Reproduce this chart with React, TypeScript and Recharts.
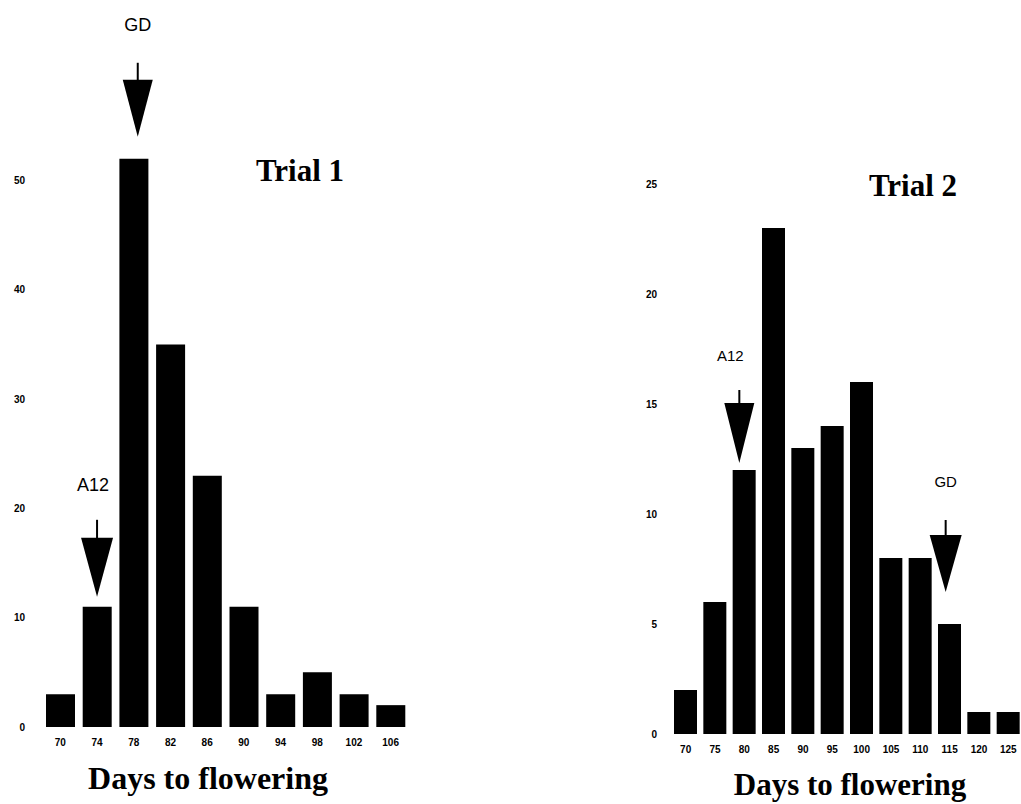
import { BarChart, Bar, XAxis, YAxis, ReferenceDot } from "recharts";

// Trial 1
const days1 = [70, 74, 78, 82, 86, 90, 94, 98, 102, 106];
const counts1 = [3, 11, 52, 35, 23, 11, 3, 5, 3, 2];
const yTicks1 = [0, 10, 20, 30, 40, 50];

// Trial 2
const days2 = [70, 75, 80, 85, 90, 95, 100, 105, 110, 115, 120, 125];
const counts2 = [2, 6, 12, 23, 13, 14, 16, 8, 8, 5, 1, 1];
const yTicks2 = [0, 5, 10, 15, 20, 25];

const data1 = days1.map((day, i) => ({ day, count: counts1[i] }));
const data2 = days2.map((day, i) => ({ day, count: counts2[i] }));

const tickFont = {
  fontSize: 10,
  fontWeight: 700,
  fill: "#000",
  fontFamily: "Liberation Sans, Arial, sans-serif",
};

// arrow pointing down at a bar, with a label above
const Arrow = (props: any) => {
  const { cx, cy, gap, triH, triW, shaft, labelGap, label, fontSize, dx = 0, ldx = 0 } = props;
  if (cx == null || cy == null) return null;
  const x = cx + dx;
  const tip = cy - gap;
  const triTop = tip - triH;
  const shaftTop = triTop - shaft;
  return (
    <g>
      <line x1={x} y1={shaftTop} x2={x} y2={triTop + 2} stroke="#000" strokeWidth={2} />
      <polygon points={`${x - triW / 2},${triTop} ${x + triW / 2},${triTop} ${x},${tip}`} fill="#000" />
      <text
        x={x + ldx}
        y={shaftTop - labelGap}
        textAnchor="middle"
        dominantBaseline="central"
        fontSize={fontSize}
        fontFamily="Liberation Sans, Arial, sans-serif"
        fill="#000"
      >
        {label}
      </text>
    </g>
  );
};

const serifBold = {
  position: "absolute" as const,
  fontFamily: "Liberation Serif, Times New Roman, serif",
  fontWeight: 700,
  color: "#000",
  whiteSpace: "nowrap" as const,
  transform: "translate(-50%, -50%)",
  lineHeight: 1,
};

export default function App() {
  return (
    <div
      style={{
        position: "absolute",
        left: 0,
        top: 0,
        width: 1021,
        height: 804,
        overflow: "hidden",
        background: "#fff",
      }}
    >
      <div style={{ position: "absolute", left: 0, top: 0 }}>
        <BarChart width={430} height={804} data={data1} margin={{ top: 126, right: 21, bottom: 0, left: 0 }}>
          <XAxis
            dataKey="day"
            axisLine={false}
            tickLine={false}
            tickSize={0}
            tickMargin={12}
            height={77}
            interval={0}
            tick={tickFont}
          />
          <YAxis
            domain={[0, 55]}
            ticks={yTicks1}
            axisLine={false}
            tickLine={false}
            tickSize={0}
            tickMargin={17}
            width={42}
            tick={tickFont}
          />
          <Bar dataKey="count" fill="#000" barSize={29} isAnimationActive={false} />
          <ReferenceDot
            x={74}
            y={11}
            r={0}
            shape={(p: any) => (
              <Arrow {...p} gap={10} triH={59} triW={32} shaft={18} labelGap={35} label="A12" fontSize={18} ldx={-4} />
            )}
          />
          <ReferenceDot
            x={78}
            y={52}
            r={0}
            shape={(p: any) => (
              <Arrow {...p} gap={22} triH={57} triW={30} shaft={17} labelGap={38} label="GD" fontSize={18} dx={4} />
            )}
          />
        </BarChart>
      </div>

      <div style={{ position: "absolute", left: 600, top: 0 }}>
        <BarChart width={424} height={804} data={data2} margin={{ top: 140, right: 1, bottom: 0, left: 0 }}>
          <XAxis
            dataKey="day"
            axisLine={false}
            tickLine={false}
            tickSize={0}
            tickMargin={12}
            height={70}
            interval={0}
            tick={tickFont}
          />
          <YAxis
            domain={[0, 27]}
            ticks={yTicks2}
            axisLine={false}
            tickLine={false}
            tickSize={0}
            tickMargin={14}
            width={71}
            tick={tickFont}
          />
          <Bar dataKey="count" fill="#000" barSize={23} isAnimationActive={false} />
          <ReferenceDot
            x={80}
            y={12}
            r={0}
            shape={(p: any) => (
              <Arrow {...p} gap={7} triH={60} triW={30} shaft={13} labelGap={35} label="A12" fontSize={15} dx={-5} ldx={-9} />
            )}
          />
          <ReferenceDot
            x={115}
            y={5}
            r={0}
            shape={(p: any) => (
              <Arrow {...p} gap={32} triH={57} triW={32} shaft={15} labelGap={39} label="GD" fontSize={15} dx={-4} />
            )}
          />
        </BarChart>
      </div>

      <div style={{ ...serifBold, left: 300, top: 170, fontSize: 31 }}>Trial 1</div>
      <div style={{ ...serifBold, left: 913, top: 185, fontSize: 31 }}>Trial 2</div>
      <div style={{ ...serifBold, left: 208, top: 778, fontSize: 32 }}>Days to flowering</div>
      <div style={{ ...serifBold, left: 850, top: 784, fontSize: 31 }}>Days to flowering</div>
    </div>
  );
}
